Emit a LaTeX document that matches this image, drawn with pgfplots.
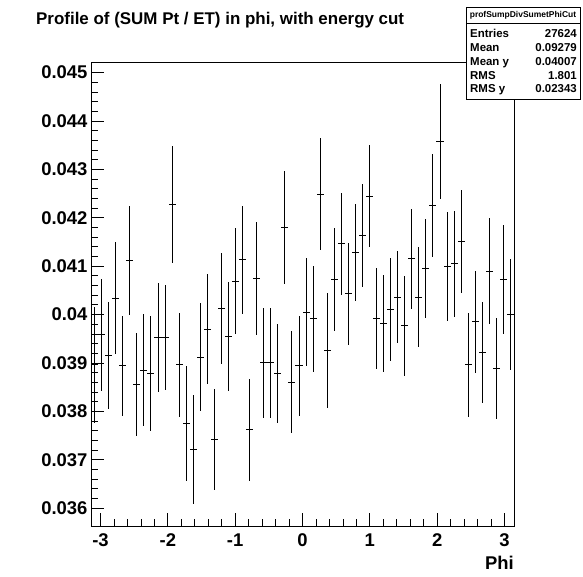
\documentclass[border=0pt]{standalone}
\usepackage{pgfplots}
\pgfplotsset{compat=1.18}
\usepackage{pgfplotstable}
\usepackage{fontspec}
\setmainfont{Liberation Sans}
\pgfplotstableread{
x y ex ey
-3.0892 0.03896 0.05236 0.00120
-2.9845 0.03958 0.05236 0.00115
-2.8798 0.03915 0.05236 0.00110
-2.7751 0.04034 0.05236 0.00115
-2.6704 0.03894 0.05236 0.00104
-2.5656 0.04112 0.05236 0.00112
-2.4609 0.03855 0.05236 0.00107
-2.3562 0.03885 0.05236 0.00116
-2.2515 0.03878 0.05236 0.00118
-2.1468 0.03953 0.05236 0.00113
-2.0420 0.03953 0.05236 0.00109
-1.9373 0.04227 0.05236 0.00121
-1.8326 0.03896 0.05236 0.00107
-1.7279 0.03775 0.05236 0.00118
-1.6232 0.03721 0.05236 0.00113
-1.5184 0.03912 0.05236 0.00111
-1.4137 0.03970 0.05236 0.00113
-1.3090 0.03742 0.05236 0.00104
-1.2043 0.04012 0.05236 0.00115
-1.0996 0.03955 0.05236 0.00112
-0.9948 0.04069 0.05236 0.00109
-0.8901 0.04113 0.05236 0.00112
-0.7854 0.03762 0.05236 0.00105
-0.6807 0.04075 0.05236 0.00117
-0.5760 0.03900 0.05236 0.00114
-0.4712 0.03900 0.05236 0.00114
-0.3665 0.03878 0.05236 0.00102
-0.2618 0.04180 0.05236 0.00117
-0.1571 0.03860 0.05236 0.00105
-0.0524 0.03894 0.05236 0.00103
0.0524 0.04005 0.05236 0.00112
0.1571 0.03991 0.05236 0.00109
0.2618 0.04249 0.05236 0.00116
0.3665 0.03926 0.05236 0.00119
0.4712 0.04073 0.05236 0.00106
0.5760 0.04146 0.05236 0.00105
0.6807 0.04043 0.05236 0.00105
0.7854 0.04128 0.05236 0.00100
0.8901 0.04163 0.05236 0.00106
0.9948 0.04245 0.05236 0.00106
1.0996 0.03992 0.05236 0.00104
1.2043 0.03982 0.05236 0.00100
1.3090 0.04010 0.05236 0.00106
1.4137 0.04036 0.05236 0.00095
1.5184 0.03977 0.05236 0.00103
1.6232 0.04115 0.05236 0.00103
1.7279 0.04036 0.05236 0.00104
1.8326 0.04095 0.05236 0.00102
1.9373 0.04225 0.05236 0.00106
2.0420 0.04358 0.05236 0.00119
2.1468 0.04099 0.05236 0.00112
2.2515 0.04105 0.05236 0.00110
2.3562 0.04151 0.05236 0.00107
2.4609 0.03896 0.05236 0.00108
2.5656 0.03985 0.05236 0.00105
2.6704 0.03922 0.05236 0.00104
2.7751 0.04090 0.05236 0.00110
2.8798 0.03889 0.05236 0.00104
2.9845 0.04073 0.05236 0.00113
3.0892 0.04000 0.05236 0.00114
}\profdata
\begin{document}
\begin{tikzpicture}[x=1bp,y=1bp]
\useasboundingbox (0,0) rectangle (583,577);
\begin{axis}[
  at={(91bp,51bp)}, anchor=south west,
  scale only axis, width=423bp, height=464bp,
  xmin=-3.14159, xmax=3.14159, ymin=0.03563, ymax=0.04522,
  scaled y ticks=false, scaled x ticks=false,
  xtick={-3,-2,-1,0,1,2,3}, xticklabels={-3,-2,-1,0,1,2,3},
  ytick={0.036,0.037,0.038,0.039,0.040,0.041,0.042,0.043,0.044,0.045},
  yticklabels={0.036,0.037,0.038,0.039,0.04,0.041,0.042,0.043,0.044,0.045},
  minor x tick num=4, minor y tick num=4,
  tick align=inside, xtick pos=lower, ytick pos=left,
  major tick length=13bp, minor tick length=6.5bp,
  tick style={black, line width=0.8bp},
  axis line style={black, line width=0.8bp},
  ticklabel style={font=\fontsize{18.5}{20}\selectfont\bfseries},
  /pgf/number format/assume math mode=true,
  xticklabel style={anchor=base, yshift=-20.7bp},
  xlabel={Phi},
  xlabel style={at={(axis description cs:1,0)}, anchor=base east, yshift=-43.5bp, font=\fontsize{18.5}{20}\selectfont\bfseries, inner sep=0pt},
  clip=false,
]
\addplot[draw=none, mark=none,
  error bars/.cd, x dir=both, x explicit, y dir=both, y explicit,
  error mark=none, error bar style={draw=black, solid, line width=0.9bp}]
  table[x=x, y=y, x error=ex, y error=ey] {\profdata};
\end{axis}
\node[anchor=west, inner sep=0pt, font=\fontsize{17}{19}\selectfont\bfseries] at (36,557) {Profile of (SUM Pt / ET) in phi, with energy cut};
\draw[black, line width=0.8bp, fill=white] (466,478) rectangle (580,570);
\draw[black, line width=0.8bp] (466,554) -- (580,554);
\node[inner sep=0pt, font=\fontsize{8.5}{9}\selectfont\bfseries] at (523,562) {profSumpDivSumetPhiCut};
\begin{scope}[every node/.style={inner sep=0pt, font=\fontsize{11.5}{12}\selectfont\bfseries}]
\node[anchor=base west] at (470,539) {Entries};
\node[anchor=base east] at (577,539) {27624};
\node[anchor=base west] at (470,525) {Mean};
\node[anchor=base east] at (577,525) {0.09279};
\node[anchor=base west] at (470,511) {Mean y};
\node[anchor=base east] at (577,511) {0.04007};
\node[anchor=base west] at (470,497.5) {RMS};
\node[anchor=base east] at (577,497.5) {1.801};
\node[anchor=base west] at (470,484.5) {RMS y};
\node[anchor=base east] at (577,484.5) {0.02343};
\end{scope}
\end{tikzpicture}
\end{document}
